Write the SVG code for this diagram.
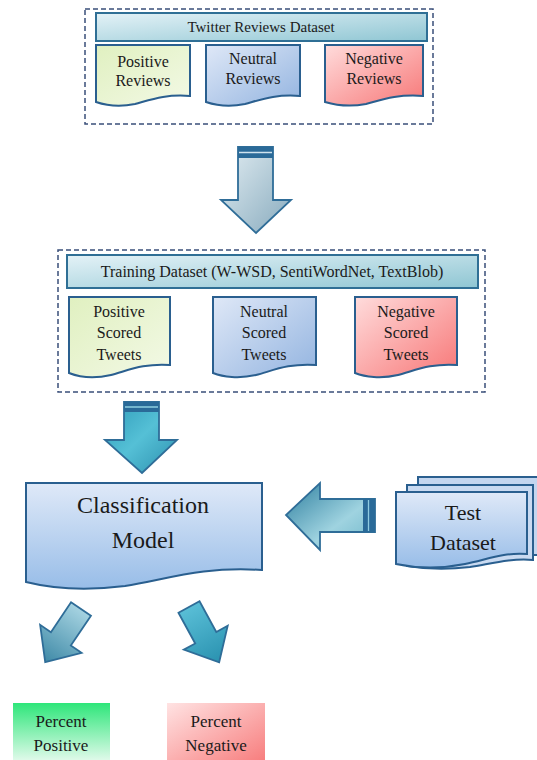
<svg xmlns="http://www.w3.org/2000/svg" width="537" height="760" viewBox="0 0 537 760">
<defs>
<linearGradient id="gTitle" x1="0" y1="0" x2="1" y2="1"><stop offset="0" stop-color="#e4f2f7"/><stop offset="1" stop-color="#8fc6d3"/></linearGradient>
<linearGradient id="gPos" x1="0" y1="0" x2="1" y2="1"><stop offset="0" stop-color="#e0f0c0"/><stop offset="1" stop-color="#f3f9e6"/></linearGradient>
<linearGradient id="gNeu" x1="0" y1="0" x2="1" y2="1"><stop offset="0" stop-color="#dfe8f7"/><stop offset="1" stop-color="#93b4e0"/></linearGradient>
<linearGradient id="gNeg" x1="0" y1="0" x2="1" y2="1"><stop offset="0" stop-color="#ffdcdc"/><stop offset="1" stop-color="#f77777"/></linearGradient>
<linearGradient id="gCls" x1="0" y1="0" x2="0" y2="1"><stop offset="0" stop-color="#dfe9f8"/><stop offset="1" stop-color="#98bde8"/></linearGradient>
<linearGradient id="gA1" x1="0" y1="0" x2="1" y2="1"><stop offset="0" stop-color="#e3eef3"/><stop offset="1" stop-color="#87aabd"/></linearGradient>
<linearGradient id="gA2" x1="0" y1="0" x2="1" y2="1"><stop offset="0" stop-color="#2d9ab8"/><stop offset="0.5" stop-color="#55c0d6"/><stop offset="1" stop-color="#2c8fae"/></linearGradient>
<linearGradient id="gA3" x1="0" y1="0" x2="1" y2="1"><stop offset="0" stop-color="#2e7f9f"/><stop offset="0.6" stop-color="#9fd3e0"/><stop offset="1" stop-color="#6db5c9"/></linearGradient>
<linearGradient id="gA4" x1="0" y1="0" x2="0" y2="1"><stop offset="0" stop-color="#a6d3e1"/><stop offset="1" stop-color="#3f8aa7"/></linearGradient>
<linearGradient id="gA5" x1="0" y1="0" x2="0" y2="1"><stop offset="0" stop-color="#59bed6"/><stop offset="1" stop-color="#2a92b0"/></linearGradient>
<linearGradient id="gPP" x1="0" y1="0" x2="0" y2="1"><stop offset="0" stop-color="#2ee67a"/><stop offset="1" stop-color="#e8fbef"/></linearGradient>
<linearGradient id="gPN" x1="0" y1="0" x2="1" y2="1"><stop offset="0" stop-color="#ffe3e3"/><stop offset="1" stop-color="#f77c7c"/></linearGradient>
<style>
.dash{fill:none;stroke:#3a4f7a;stroke-width:1.5;stroke-dasharray:5 3}
.bar{fill:url(#gTitle);stroke:#2f6f95;stroke-width:2}
.doc{stroke:#2a5f8f;stroke-width:2}
.arr{stroke:#2f6d98;stroke-width:1.8;stroke-linejoin:miter}
.band{fill:#2a6a98}
text{font-family:'Liberation Serif','Times New Roman',serif;fill:#1a1a1a;text-anchor:middle}
</style>
</defs>

<g id="twitter-dataset">
<rect class="dash" x="85" y="9" width="348" height="115"/>
<rect class="bar" x="96" y="13" width="331" height="28"/>
<text x="261" y="32" font-size="15">Twitter Reviews Dataset</text>
</g>
<g id="positive-reviews">
<path class="doc" fill="url(#gPos)" d="M96,45 H190 V96 C165,94 150,100 135,104 C120,107 105,105 96,102 Z"/>
<text x="143" y="67" font-size="16">Positive</text>
<text x="143" y="86" font-size="16">Reviews</text>
</g>
<g id="neutral-reviews">
<path class="doc" fill="url(#gNeu)" d="M206,45 H300 V96 C275,94 260,100 245,104 C230,107 215,105 206,102 Z"/>
<text x="253" y="64" font-size="16">Neutral</text>
<text x="253" y="84" font-size="16">Reviews</text>
</g>
<g id="negative-reviews">
<path class="doc" fill="url(#gNeg)" d="M325,45 H423 V96 C397,94 381,100 366,104 C350,107 335,105 325,102 Z"/>
<text x="374" y="64" font-size="16">Negative</text>
<text x="374" y="84" font-size="16">Reviews</text>
</g>

<g id="training-dataset">
<rect class="dash" x="58" y="250" width="427" height="142"/>
<rect class="bar" x="67" y="255" width="411" height="33"/>
<text x="272" y="277" font-size="16">Training Dataset (W-WSD, SentiWordNet, TextBlob)</text>
</g>
<g id="positive-scored">
<path class="doc" fill="url(#gPos)" d="M69,297 H170 V365 C143,363 127,371 111,375 C94,379 79,377 69,373 Z"/>
<text x="119" y="317" font-size="16">Positive</text>
<text x="119" y="338" font-size="16">Scored</text>
<text x="119" y="360" font-size="16">Tweets</text>
</g>
<g id="neutral-scored">
<path class="doc" fill="url(#gNeu)" d="M213,297 H316 V365 C288,363 272,371 256,375 C239,379 223,377 213,373 Z"/>
<text x="264" y="317" font-size="16">Neutral</text>
<text x="264" y="338" font-size="16">Scored</text>
<text x="264" y="360" font-size="16">Tweets</text>
</g>
<g id="negative-scored">
<path class="doc" fill="url(#gNeg)" d="M355,297 H457 V365 C430,363 414,371 398,375 C381,379 365,377 355,373 Z"/>
<text x="406" y="317" font-size="16">Negative</text>
<text x="406" y="338" font-size="16">Scored</text>
<text x="406" y="360" font-size="16">Tweets</text>
</g>

<g id="classification-model">
<path class="doc" fill="url(#gCls)" d="M26,483 H262 V570 C200,566 165,580 125,586 C85,591 50,588 26,582 Z"/>
<text x="143" y="513" font-size="24">Classification</text>
<text x="143" y="548" font-size="24">Model</text>
</g>

<g id="test-dataset">
<path class="doc" fill="#c4d6ef" d="M418,477 H540 V555 H418 Z"/>
<path class="doc" fill="#c9daf1" d="M407,485 H533 V560 C510,558 490,564 470,567 C445,570 425,569 407,566 Z"/>
<path class="doc" fill="url(#gCls)" d="M396,492 H527 V554 C503,552 486,560 465,564 C440,569 415,568 396,564 Z"/>
<text x="463" y="520" font-size="22">Test</text>
<text x="463" y="550" font-size="22">Dataset</text>
</g>

<g id="percent-positive">
<rect x="13" y="703" width="97" height="60" fill="url(#gPP)"/>
<text x="61" y="727" font-size="17">Percent</text>
<text x="61" y="751" font-size="17">Positive</text>
</g>
<g id="percent-negative">
<rect x="167" y="703" width="98" height="60" fill="url(#gPN)"/>
<text x="216" y="727" font-size="17">Percent</text>
<text x="216" y="751" font-size="17">Negative</text>
</g>

<g id="connectors">
<path class="arr" fill="url(#gA1)" d="M238,147 H273 V200 H291 L256,233 L221,200 H238 Z"/>
<rect class="band" x="238" y="147" width="35" height="11"/>
<line x1="239" y1="152.5" x2="272" y2="152.5" stroke="#cfe3ee" stroke-width="1.5"/>

<path class="arr" fill="url(#gA2)" d="M124,402 H159 V440 H177 L142,473 L105,440 H124 Z"/>
<rect class="band" x="124" y="402" width="35" height="10"/>
<line x1="125" y1="407" x2="158" y2="407" stroke="#8fd0e0" stroke-width="1.3"/>

<path class="arr" fill="url(#gA3)" d="M375,499 V532 H320 V550 L286,515 L320,483 V499 Z"/>
<rect class="band" x="363" y="499" width="12" height="33"/>
<line x1="368.5" y1="500" x2="368.5" y2="531" stroke="#8fcbe0" stroke-width="1.3"/>

<path class="arr" fill="url(#gA4)" transform="translate(81,609) rotate(34)" d="M-12,0 H12 V36 H25 L0,64 L-25,36 H-12 Z"/>
<path class="arr" fill="url(#gA5)" transform="translate(189,607) rotate(-28.6)" d="M-12,0 H12 V35 H25 L0,63 L-25,35 H-12 Z"/>
</g>
</svg>
